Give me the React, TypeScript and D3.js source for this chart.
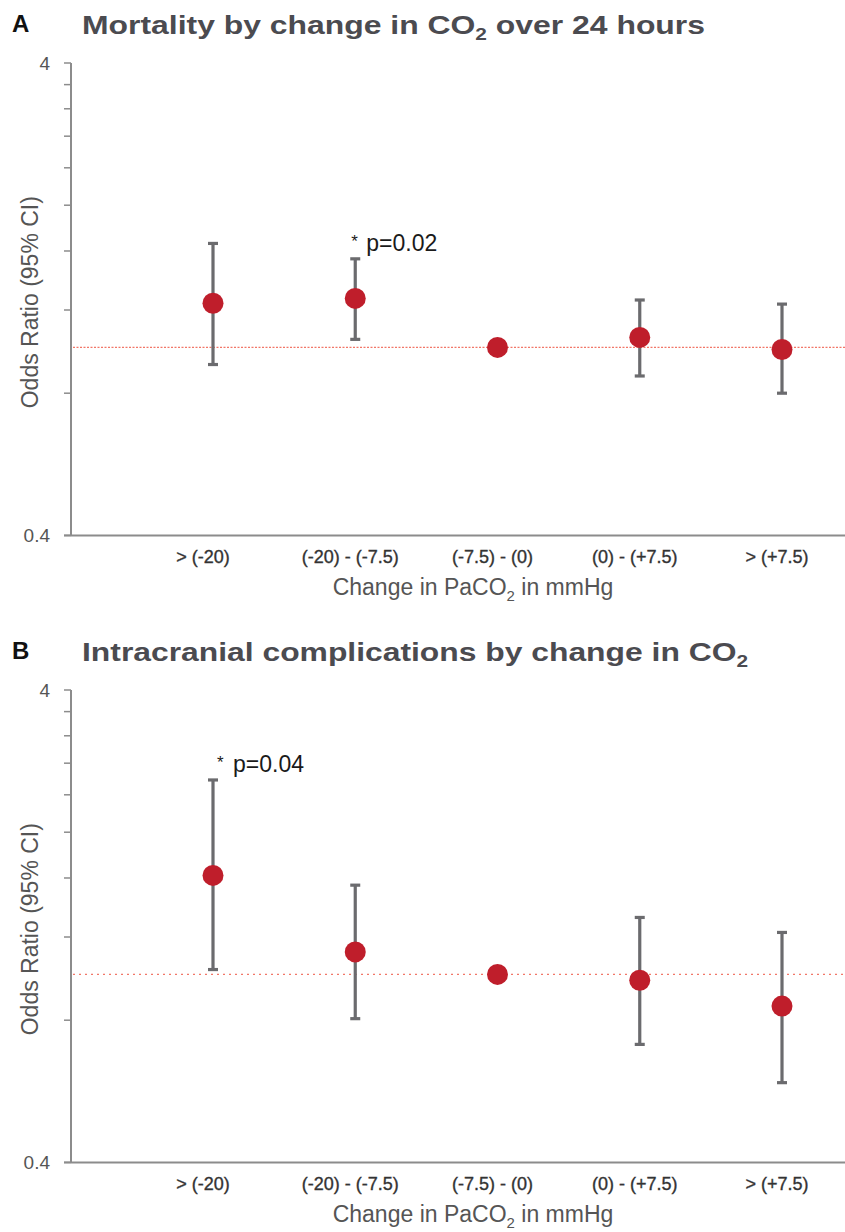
import React from "react";
import * as d3 from "d3";

const categories = ["> (-20)", "(-20) - (-7.5)", "(-7.5) - (0)", "(0) - (+7.5)", "> (+7.5)"];

const mortalityOR = [1.24, 1.27, 1.0, 1.05, 0.99];
const mortalityLower = [0.92, 1.04, null, 0.87, 0.8];
const mortalityUpper = [1.66, 1.54, null, 1.26, 1.235];

const complicationsOR = [1.62, 1.116, 1.0, 0.972, 0.857];
const complicationsLower = [1.024, 0.806, null, 0.711, 0.59];
const complicationsUpper = [2.58, 1.545, null, 1.32, 1.227];

const yTicks = [0.4, 0.8, 1.2, 1.6, 2.0, 2.4, 2.8, 3.2, 3.6, 4.0];
const yTickLabels = ["0.4", "4"];
const yDomain = [0.4, 4];
const referenceOR = 1;

const FONT = "'Liberation Sans', Arial, Helvetica, sans-serif";
const RED = "#bf1e2b";
const BAR = "#6b6b6e";
const AXIS = "#8c8c8c";

type PanelProps = {
  letter: string;
  title: React.ReactNode;
  titleWidth: number;
  top: number;
  or: number[];
  lower: (number | null)[];
  upper: (number | null)[];
  note: { index: number; text: string; starDx: number; textDx: number };
  refDash: string;
};

function Panel({ letter, title, titleWidth, top, or, lower, upper, note, refDash }: PanelProps) {
  const plotTop = top;
  const plotBottom = top + 472.4;
  const axisX = 71;
  const rightX = 845;
  const y = d3.scaleLog().domain(yDomain).range([plotBottom, plotTop]);
  const x = d3.scalePoint<string>().domain(categories).range([213, 782]);
  const refY = y(referenceOR);

  return (
    <g>
      <text x={12} y={top - 31} fontFamily={FONT} fontWeight={700} fontSize={24} fill="#111">
        {letter}
      </text>
      <text
        x={82}
        y={top - 29}
        fontFamily={FONT}
        fontWeight={700}
        fontSize={26}
        fill="#4b4b50"
        textLength={titleWidth}
        lengthAdjust="spacingAndGlyphs"
      >
        {title}
      </text>

      {/* y axis */}
      <line x1={axisX} x2={axisX} y1={plotTop} y2={plotBottom} stroke={AXIS} strokeWidth={2} />
      {yTicks.map((t) => (
        <line key={t} x1={axisX - 7} x2={axisX} y1={y(t)} y2={y(t)} stroke={AXIS} strokeWidth={1.5} />
      ))}
      {yTickLabels.map((l) => (
        <text
          key={l}
          x={axisX - 21}
          y={y(+l)}
          dy="0.35em"
          textAnchor="end"
          fontFamily={FONT}
          fontSize={19}
          fill="#555"
        >
          {l}
        </text>
      ))}
      <text
        transform={`translate(30,${(plotTop + plotBottom) / 2 + 3}) rotate(-90)`}
        textAnchor="middle"
        fontFamily={FONT}
        fontSize={23}
        fill="#555"
        dy="0.35em"
      >
        Odds Ratio (95% CI)
      </text>

      {/* x axis */}
      <line x1={axisX - 7} x2={rightX} y1={plotBottom} y2={plotBottom} stroke={AXIS} strokeWidth={2} />
      {categories.map((c, i) => (
        <text
          key={c}
          x={x(c)! - (i === 0 ? 10 : 5)}
          y={plotBottom + 28}
          textAnchor="middle"
          fontFamily={FONT}
          fontSize={18}
          fill="#333"
          stroke="#333"
          strokeWidth={0.35}
        >
          {c}
        </text>
      ))}
      <text
        x={473}
        y={plotBottom + 60}
        textAnchor="middle"
        fontFamily={FONT}
        fontSize={23}
        fill="#555"
      >
        Change in PaCO
        <tspan fontSize={15} dy={6}>2</tspan>
        <tspan dy={-6}> in mmHg</tspan>
      </text>

      {/* reference line */}
      <line
        x1={axisX + 2}
        x2={rightX}
        y1={refY}
        y2={refY}
        stroke="#f0604e"
        strokeWidth={1.3}
        strokeDasharray={refDash}
        opacity={0.85}
      />

      {/* error bars and points */}
      {categories.map((c, i) => {
        const cx = x(c)!;
        const lo = lower[i];
        const hi = upper[i];
        return (
          <g key={c}>
            {lo != null && hi != null && (
              <g stroke={BAR} strokeWidth={3.2}>
                <line x1={cx} x2={cx} y1={y(hi)} y2={y(lo)} />
                <line x1={cx - 5} x2={cx + 5} y1={y(hi)} y2={y(hi)} />
                <line x1={cx - 5} x2={cx + 5} y1={y(lo)} y2={y(lo)} />
              </g>
            )}
            <circle cx={cx} cy={y(or[i])} r={10.5} fill={RED} />
          </g>
        );
      })}

      {/* annotation */}
      {(() => {
        const c = categories[note.index];
        const cx = x(c)!;
        const base = y(upper[note.index] as number) - 8;
        return (
          <g fontFamily={FONT} fill="#1a1a1a">
            <text x={cx + note.starDx} y={base - 4} fontSize={17}>*</text>
            <text x={cx + note.textDx} y={base} fontSize={23}>{note.text}</text>
          </g>
        );
      })()}
    </g>
  );
}

export default function App() {
  return (
    <svg
      width={845}
      height={1232}
      style={{ position: "absolute", left: 0, top: 0, background: "#fff" }}
    >
      <rect width={845} height={1232} fill="#fff" />
      <Panel
        letter="A"
        title={
          <>
            Mortality by change in CO<tspan fontSize={17} dy={6}>2</tspan>
            <tspan dy={-6}> over 24 hours</tspan>
          </>
        }
        titleWidth={623}
        top={63}
        or={mortalityOR}
        lower={mortalityLower}
        upper={mortalityUpper}
        note={{ index: 1, text: "p=0.02", starDx: -4, textDx: 11 }}
        refDash="2,1.5"
      />
      <Panel
        letter="B"
        title={
          <>
            Intracranial complications by change in CO<tspan fontSize={17} dy={6}>2</tspan>
          </>
        }
        titleWidth={666}
        top={690}
        or={complicationsOR}
        lower={complicationsLower}
        upper={complicationsUpper}
        note={{ index: 0, text: "p=0.04", starDx: 4, textDx: 20 }}
        refDash="2,4"
      />
    </svg>
  );
}
